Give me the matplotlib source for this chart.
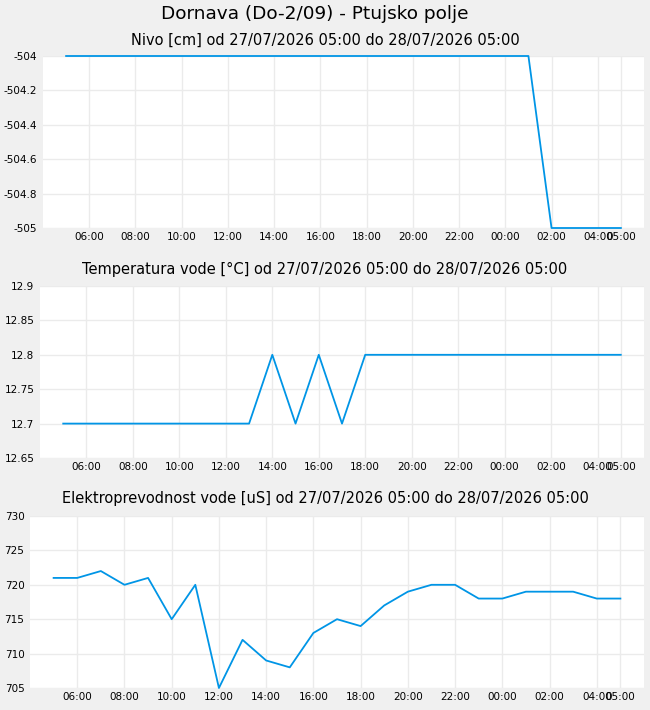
import matplotlib
matplotlib.use("Agg")
import matplotlib.pyplot as plt
import matplotlib.dates as mdates
import pandas as pd

# hourly readings 27/07/2026 05:00 .. 28/07/2026 05:00
times = pd.date_range("2026-07-27 05:00", "2026-07-28 05:00", freq="h")

nivo = [-504] * 21 + [-505] * 4
temperatura = [12.7] * 9 + [12.8, 12.7, 12.8, 12.7] + [12.8] * 12
prevodnost = [721, 721, 722, 720, 721, 715, 720, 705, 712, 709, 708, 713, 715,
              714, 717, 719, 720, 720, 718, 718, 719, 719, 719, 718, 718]

title = "Dornava (Do-2/09) - Ptujsko polje"
subtitles = ["Nivo [cm] od 27/07/2026 05:00 do 28/07/2026 05:00",
             "Temperatura vode [°C] od 27/07/2026 05:00 do 28/07/2026 05:00",
             "Elektroprevodnost vode [uS] od 27/07/2026 05:00 do 28/07/2026 05:00"]
yticks = [[-505, -504.8, -504.6, -504.4, -504.2, -504],
          [12.65, 12.7, 12.75, 12.8, 12.85, 12.9],
          [705, 710, 715, 720, 725, 730]]
series = [nivo, temperatura, prevodnost]

W, H = 650, 710
fig = plt.figure(figsize=(W / 100, H / 100), dpi=100, facecolor="#f0f0f0")

# left edge, top edge in pixels
boxes = [(43, 56), (40, 286), (30, 516)]
ax_h = 172
right = 644
sub_y = [40, 269, 499]

xticks = list(times[1:-1:2]) + [times[-1]]
one_h = pd.Timedelta(hours=1)

fig.text(315 / W, 1 - 14 / H, title, ha="center", va="center", fontsize=13.3)

for i in range(3):
    left, top = boxes[i]
    ax = fig.add_axes([left / W, 1 - (top + ax_h) / H, (right - left) / W, ax_h / H])
    ax.set_facecolor("white")
    ax.plot(times, series[i], color="#0095e6", lw=1.3, clip_on=False)
    ax.set_xlim(times[0] - one_h, times[-1] + one_h)
    ax.set_ylim(yticks[i][0], yticks[i][-1])
    ax.set_yticks(yticks[i])
    ax.set_yticklabels(["%g" % v for v in yticks[i]])
    ax.set_xticks(xticks)
    ax.xaxis.set_major_formatter(mdates.DateFormatter("%H:%M"))
    ax.tick_params(length=0, labelsize=7.5, pad=4)
    ax.tick_params(axis="x", pad=3)
    ax.grid(color="#ebebeb", lw=1)
    ax.set_axisbelow(True)
    for s in ax.spines.values():
        s.set_visible(False)
    fig.text(0.5, 1 - sub_y[i] / H, subtitles[i], ha="center", va="center", fontsize=10.5)

plt.savefig("out.png", dpi=100, facecolor=fig.get_facecolor())
